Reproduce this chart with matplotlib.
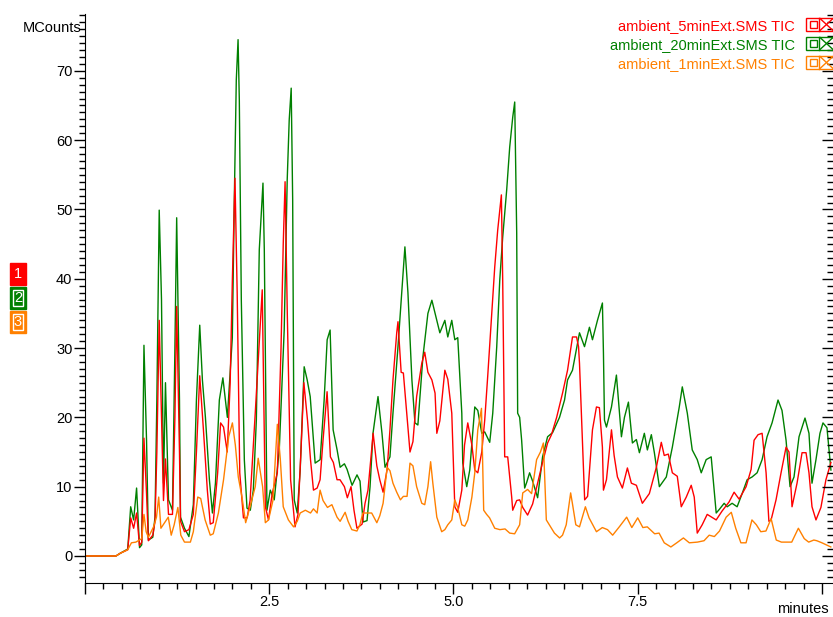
import numpy as np
import matplotlib
matplotlib.use('Agg')
import matplotlib.pyplot as plt
from matplotlib.patches import Rectangle
from matplotlib.lines import Line2D
from matplotlib.ticker import MultipleLocator, FixedLocator

plt.rcParams['font.family'] = ['Liberation Sans', 'DejaVu Sans']

RED = '#ff0000'
GREEN = '#008000'
ORANGE = '#ff8000'

## DATA  (time in minutes, signal in MCounts)
pts_20min = [
    (0.00, 0), (0.42, 0), (0.48, 0.4), (0.58, 1.0), (0.62, 7.1), (0.66, 5.2), (0.70, 9.8),
    (0.74, 1.2), (0.77, 1.6), (0.80, 30.4), (0.835, 16.7), (0.86, 2.3), (0.92, 2.7), (0.95, 5.6),
    (0.975, 22.5), (1.007, 49.9), (1.038, 37), (1.065, 10.5), (1.092, 25), (1.133, 8.1),
    (1.187, 6.6), (1.22, 30), (1.244, 48.8), (1.282, 22.5), (1.296, 5.6), (1.35, 4.0),
    (1.41, 2.8), (1.47, 7.4), (1.512, 22.5), (1.557, 33.3), (1.593, 25.4), (1.634, 20),
    (1.688, 11), (1.729, 6.2), (1.770, 10.5), (1.823, 22.5), (1.871, 25.7), (1.932, 20),
    (1.972, 26.8), (1.999, 31.5), (2.026, 51.4), (2.053, 68.7), (2.077, 74.5), (2.094, 65.8),
    (2.121, 37), (2.162, 13.9), (2.198, 6.9), (2.243, 6.6), (2.284, 9.5), (2.325, 19.6),
    (2.365, 44.2), (2.415, 53.8), (2.433, 44.2), (2.469, 6.6), (2.514, 9.5), (2.568, 8.1),
    (2.636, 15.3), (2.703, 32.6), (2.744, 54.3), (2.771, 62.9), (2.798, 67.5), (2.818, 51.4),
    (2.839, 8.1), (2.880, 6.2), (2.920, 12.4), (2.974, 27.3), (3.015, 25.4), (3.056, 23),
    (3.123, 13.4), (3.191, 13.9), (3.245, 22.5), (3.286, 31.2), (3.326, 32.6), (3.367, 18.2),
    (3.421, 15.3), (3.462, 12.8), (3.52, 13.3), (3.556, 12.5), (3.624, 10.2), (3.691, 11.7),
    (3.732, 10.8), (3.773, 4.9), (3.827, 5.1), (3.868, 10), (3.908, 17.7), (3.976, 23),
    (4.030, 17.7), (4.071, 12.8), (4.138, 14.3), (4.179, 20.6), (4.247, 30.2), (4.301, 38.4),
    (4.341, 44.6), (4.382, 38), (4.436, 25.4), (4.477, 19.2), (4.517, 18.9), (4.585, 28.7),
    (4.653, 35), (4.707, 36.9), (4.774, 34), (4.815, 32.2), (4.883, 34), (4.923, 31.6),
    (4.977, 34), (5.018, 31.2), (5.058, 31.5), (5.113, 20.6), (5.126, 13.4), (5.180, 10),
    (5.221, 12.4), (5.289, 21.5), (5.330, 21), (5.384, 17.7), (5.424, 17.9), (5.492, 16.4),
    (5.533, 20.6), (5.587, 30.2), (5.628, 39.8), (5.668, 46), (5.722, 52.8), (5.763, 59),
    (5.804, 63.3), (5.831, 65.5), (5.858, 46.6), (5.871, 20.6), (5.898, 20), (5.925, 16.7),
    (5.966, 9.8), (5.993, 10.6), (6.033, 12), (6.074, 10.8), (6.142, 8.4), (6.209, 14.3),
    (6.277, 17.2), (6.345, 17.8), (6.439, 20), (6.507, 22.5), (6.548, 25.4), (6.615, 26.8),
    (6.710, 32.2), (6.778, 30.2), (6.845, 33), (6.886, 31.2), (6.954, 34), (7.021, 36.5),
    (7.035, 29.3), (7.049, 19.6), (7.076, 18.6), (7.144, 21.5), (7.211, 26.1), (7.279, 17.2),
    (7.320, 20), (7.374, 22.2), (7.428, 16.3), (7.482, 16.8), (7.523, 14.9), (7.590, 17.7),
    (7.631, 15.3), (7.685, 17.5), (7.726, 14.9), (7.794, 10), (7.888, 11.4), (7.970, 15.7),
    (8.064, 21.5), (8.105, 24.4), (8.173, 20.6), (8.240, 15.3), (8.308, 13.9), (8.362, 12),
    (8.429, 13.9), (8.497, 14.3), (8.565, 6.2), (8.606, 6.7), (8.673, 7.6), (8.714, 7.1),
    (8.781, 7.6), (8.849, 7.1), (8.917, 9.0), (8.985, 11), (9.052, 11.4), (9.120, 12),
    (9.188, 13.9), (9.255, 17.2), (9.323, 19.2), (9.404, 22.5), (9.458, 21), (9.513, 16.7),
    (9.567, 10), (9.621, 11.4), (9.689, 17.2), (9.770, 19.9), (9.824, 17.7), (9.865, 10.5),
    (9.919, 13.9), (9.973, 17.7), (10.014, 19.2), (10.068, 18.5), (10.122, 12.4),
]

pts_5min = [
    (0.00, 0), (0.42, 0), (0.48, 0.4), (0.58, 0.9), (0.62, 5.5), (0.66, 4.0), (0.70, 6.2),
    (0.74, 1.5), (0.77, 2.0), (0.80, 17), (0.835, 9), (0.86, 2.2), (0.92, 3.0), (0.95, 5),
    (0.975, 15), (1.007, 34), (1.038, 20), (1.065, 8), (1.092, 14), (1.133, 6), (1.187, 6),
    (1.22, 20), (1.244, 36), (1.282, 15), (1.296, 5), (1.35, 3.5), (1.41, 3.8), (1.47, 6),
    (1.512, 15), (1.557, 26), (1.607, 18.2), (1.66, 9.5), (1.70, 4.6), (1.74, 4.8), (1.80, 12),
    (1.84, 19.2), (1.88, 18.6), (1.93, 15), (1.97, 25), (2.00, 40), (2.035, 54.5), (2.065, 38),
    (2.10, 12), (2.15, 5.5), (2.20, 5.5), (2.24, 8), (2.31, 20.6), (2.36, 30), (2.405, 38.4),
    (2.43, 20), (2.447, 7.1), (2.49, 5.2), (2.54, 9), (2.61, 12), (2.66, 30), (2.69, 45),
    (2.715, 54), (2.745, 35), (2.79, 11), (2.85, 4.2), (2.89, 6), (2.93, 15), (2.97, 25),
    (3.02, 19.5), (3.06, 13.9), (3.10, 9.5), (3.15, 9.8), (3.19, 11), (3.23, 16.7),
    (3.285, 23.7), (3.33, 14.3), (3.37, 13.5), (3.42, 11), (3.46, 11), (3.52, 10), (3.56, 8.4),
    (3.61, 10), (3.65, 6.6), (3.69, 4.0), (3.76, 4.6), (3.80, 7.6), (3.84, 9.5), (3.89, 15.3),
    (3.91, 17.7), (3.96, 13), (4.00, 11), (4.045, 9.2), (4.10, 12.5), (4.138, 18.2),
    (4.179, 25.4), (4.23, 32.2), (4.247, 33.8), (4.29, 26.5), (4.32, 26.4), (4.37, 20),
    (4.41, 15), (4.45, 16.5), (4.50, 23), (4.57, 27.8), (4.61, 29.4), (4.653, 26.5),
    (4.707, 25.4), (4.75, 23.5), (4.774, 17.7), (4.815, 19.5), (4.883, 26.8), (4.923, 25.5),
    (4.977, 20.6), (5.018, 7.1), (5.058, 6.3), (5.113, 9.5), (5.15, 16), (5.194, 19.2),
    (5.25, 16), (5.289, 12.4), (5.330, 12), (5.384, 15), (5.424, 19.6), (5.465, 26),
    (5.52, 35), (5.56, 41.7), (5.60, 47), (5.65, 52.1), (5.668, 39.8), (5.695, 14.3),
    (5.736, 14.3), (5.79, 8.5), (5.804, 6.6), (5.858, 8.0), (5.898, 8.1), (5.94, 7),
    (6.006, 5.9), (6.074, 7.5), (6.142, 10.5), (6.209, 13.5), (6.277, 16.3), (6.33, 17.5),
    (6.40, 20), (6.48, 23.5), (6.548, 26.8), (6.615, 31.6), (6.67, 31.6), (6.697, 30.2),
    (6.71, 27.8), (6.78, 8.1), (6.82, 8.6), (6.886, 18.2), (6.94, 21.5), (6.98, 21.4),
    (7.021, 15.7), (7.035, 9.5), (7.076, 11), (7.144, 18.2), (7.18, 14.5), (7.225, 11.4),
    (7.292, 9.8), (7.36, 12.7), (7.414, 10.5), (7.482, 10.2), (7.563, 7.6), (7.658, 9),
    (7.753, 12.8), (7.82, 16.4), (7.86, 14.5), (7.915, 14.7), (7.970, 12), (8.037, 11.5),
    (8.091, 7.1), (8.159, 8.5), (8.226, 10.2), (8.267, 8.5), (8.308, 3.3), (8.375, 4.5),
    (8.443, 6.0), (8.565, 5.2), (8.646, 6.5), (8.74, 7.8), (8.808, 9.2), (8.876, 8.2),
    (8.971, 10), (9.039, 12.5), (9.079, 16.7), (9.133, 17.5), (9.188, 17.7), (9.242, 12),
    (9.28, 5.0), (9.310, 5.2), (9.377, 8.1), (9.445, 12), (9.513, 15.7), (9.553, 15),
    (9.594, 7.1), (9.662, 10.5), (9.730, 14.9), (9.784, 14.9), (9.824, 12), (9.865, 7.1),
    (9.919, 5.2), (9.986, 7), (10.054, 11), (10.122, 13.5),
]

pts_1min = [
    (0.00, 0), (0.42, 0), (0.48, 0.4), (0.58, 0.9), (0.63, 1.9), (0.69, 2.0), (0.77, 2.5),
    (0.80, 6), (0.83, 3.5), (0.86, 2.7), (0.93, 4.2), (0.97, 5.6), (1.00, 8.5), (1.03, 4),
    (1.08, 4.8), (1.13, 5.6), (1.17, 3), (1.21, 4.5), (1.26, 7), (1.30, 3), (1.35, 2),
    (1.43, 2), (1.47, 3.5), (1.53, 8.5), (1.57, 8.3), (1.63, 5.2), (1.70, 3), (1.74, 3.2),
    (1.81, 6.2), (1.88, 11), (1.95, 17.2), (2.00, 19.2), (2.04, 16), (2.08, 11.4), (2.13, 8.5),
    (2.18, 4.8), (2.24, 7.1), (2.31, 10), (2.35, 14.1), (2.41, 10), (2.447, 4.8), (2.49, 5.2),
    (2.55, 8), (2.61, 19), (2.65, 14), (2.69, 7.1), (2.76, 5.2), (2.83, 4.2), (2.88, 5),
    (2.92, 6.2), (2.99, 6.6), (3.06, 6.2), (3.10, 6.8), (3.15, 6.2), (3.19, 9.5), (3.23, 8),
    (3.29, 7), (3.35, 7.4), (3.42, 5.6), (3.462, 5), (3.53, 6.3), (3.57, 5), (3.62, 3.8),
    (3.69, 3.6), (3.73, 4.5), (3.77, 6.2), (3.83, 6.2), (3.89, 6.2), (3.96, 4.8), (4.00, 5.8),
    (4.045, 7.6), (4.10, 12.8), (4.138, 12.3), (4.179, 10.5), (4.23, 9.2), (4.28, 8.1),
    (4.32, 8.6), (4.37, 8.6), (4.41, 13.4), (4.45, 13), (4.50, 10), (4.57, 7.6), (4.61, 7.4),
    (4.653, 10), (4.69, 13.6), (4.72, 10.5), (4.774, 5.6), (4.84, 3.5), (4.883, 3.8),
    (4.923, 4.5), (4.977, 5.2), (5.018, 8.1), (5.058, 7), (5.113, 4.5), (5.153, 4.3),
    (5.194, 5.2), (5.25, 8.5), (5.289, 12), (5.33, 18.2), (5.38, 21.3), (5.41, 6.6),
    (5.45, 6), (5.49, 5.5), (5.56, 4.0), (5.63, 3.8), (5.70, 3.9), (5.763, 3.3), (5.83, 3.2),
    (5.898, 4.5), (5.94, 9.1), (6.006, 9.6), (6.06, 9), (6.128, 13.9), (6.18, 15),
    (6.22, 16.3), (6.26, 5.2), (6.30, 4.5), (6.37, 3.3), (6.44, 2.6), (6.48, 3), (6.53, 4.5),
    (6.59, 9.1), (6.615, 7.5), (6.66, 4.5), (6.71, 4.2), (6.79, 7.1), (6.84, 5.5), (6.94, 3.5),
    (7.02, 4.1), (7.09, 3.8), (7.16, 3.0), (7.25, 4.2), (7.35, 5.6), (7.42, 4.1), (7.50, 5.5),
    (7.57, 4.1), (7.63, 4.2), (7.73, 3.2), (7.79, 3.3), (7.86, 1.9), (7.95, 1.3), (8.03, 1.9),
    (8.12, 2.6), (8.20, 1.9), (8.31, 2.0), (8.40, 2.2), (8.47, 3.0), (8.54, 2.8), (8.61, 3.6),
    (8.70, 5.6), (8.77, 6.3), (8.83, 4.0), (8.90, 1.9), (8.97, 1.9), (9.05, 5.2), (9.11, 4.5),
    (9.17, 3.5), (9.24, 3.6), (9.31, 5.4), (9.38, 2.3), (9.45, 2.0), (9.51, 2.0), (9.59, 2.0),
    (9.68, 4.0), (9.76, 2.5), (9.82, 2.0), (9.89, 2.3), (9.93, 2.2), (10.00, 1.9), (10.12, 1.3),
]

t_20min, v_20min = np.array(pts_20min).T
t_5min, v_5min = np.array(pts_5min).T
t_1min, v_1min = np.array(pts_1min).T

trace_names = ['ambient_5minExt.SMS TIC', 'ambient_20minExt.SMS TIC', 'ambient_1minExt.SMS TIC']
trace_colors = [RED, GREEN, ORANGE]
x_ticks = [0, 2.5, 5.0, 7.5, 10.0]
x_ticklabels = ['', '2.5', '5.0', '7.5', '']

## FIGURE
W, H = 833, 617
fig = plt.figure(figsize=(W / 100, H / 100), dpi=100)
ax = fig.add_axes([85 / W, 34 / H, (W - 85) / W, (603 - 34) / H])

ax.plot(t_20min, v_20min, color=GREEN, lw=1.0)
ax.plot(t_5min, v_5min, color=RED, lw=1.0)
ax.plot(t_1min, v_1min, color=ORANGE, lw=1.0)

ax.set_xlim(0, 10.15)
ax.set_ylim(-3.9, 78.2)
ax.spines['top'].set_visible(False)
ax.spines['right'].set_visible(False)
ax.xaxis.set_major_locator(FixedLocator(x_ticks))
ax.set_xticklabels(x_ticklabels)
ax.xaxis.set_minor_locator(MultipleLocator(0.25))
ax.yaxis.set_major_locator(MultipleLocator(10))
ax.yaxis.set_minor_locator(MultipleLocator(1))
ax.tick_params(which='major', direction='out', length=8, width=1, labelsize=10.5, pad=1)
ax.tick_params(which='minor', direction='out', length=4.5, width=1)

# ticks on the right edge
axr = ax.twinx()
axr.set_ylim(ax.get_ylim())
axr.yaxis.set_major_locator(MultipleLocator(10))
axr.yaxis.set_minor_locator(MultipleLocator(1))
axr.tick_params(axis='y', which='major', direction='in', length=8, width=1, labelright=False)
axr.tick_params(axis='y', which='minor', direction='in', length=4.5, width=1)
for s in ['top', 'left', 'bottom', 'right']:
    axr.spines[s].set_visible(False)


def fx(x):
    return x / W


def fy(y):
    return 1 - y / H


fig.text(fx(81), fy(28), 'MCounts', ha='right', va='center', fontsize=10.5)
fig.text(fx(829), fy(609), 'minutes', ha='right', va='center', fontsize=10.5)

## LEGEND (top right)
for i, (name, c) in enumerate(zip(trace_names, trace_colors)):
    yc = 24.5 + 19 * i
    fig.text(fx(795), fy(yc + 2), name, color=c, ha='right', va='center', fontsize=10.5)
    fig.add_artist(Rectangle((fx(806), fy(yc + 6.5)), 28 / W, 13 / H, fill=False,
                             ec=c, lw=1, transform=fig.transFigure))
    fig.add_artist(Rectangle((fx(809.5), fy(yc + 3.5)), 7 / W, 7 / H, fill=False,
                             ec=c, lw=1, transform=fig.transFigure))
    fig.add_artist(Line2D([fx(819), fx(819)], [fy(yc - 6.5), fy(yc + 6.5)], color=c, lw=1,
                          transform=fig.transFigure))
    fig.add_artist(Line2D([fx(820), fx(833)], [fy(yc - 6), fy(yc + 6)], color=c, lw=1,
                          transform=fig.transFigure))
    fig.add_artist(Line2D([fx(820), fx(833)], [fy(yc + 6), fy(yc - 6)], color=c, lw=1,
                          transform=fig.transFigure))

## NUMBERED MARKERS (left)
for i, c in enumerate([RED, GREEN, ORANGE]):
    y0 = 263 + 24 * i
    fig.add_artist(Rectangle((fx(10), fy(y0 + 22)), 16 / W, 22 / H, fc=c, ec=c, lw=1,
                             transform=fig.transFigure))
    if i > 0:
        fig.add_artist(Rectangle((fx(13), fy(y0 + 19)), 10 / W, 16 / H, fill=False,
                                 ec='white', lw=1, transform=fig.transFigure))
    fig.text(fx(18), fy(y0 + 11), str(i + 1), color='white', ha='center', va='center',
             fontsize=10.5)

fig.savefig('out.png', dpi=100)
